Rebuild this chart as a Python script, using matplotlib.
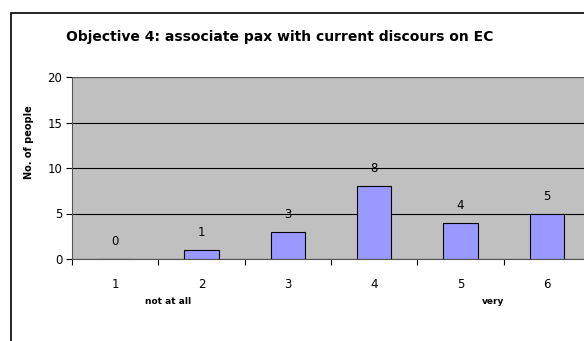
import matplotlib.pyplot as plt
from matplotlib.patches import Rectangle

categories = [1, 2, 3, 4, 5, 6]
counts = [0, 1, 3, 8, 4, 5]
title = "Objective 4: associate pax with current discours on EC"

W, H = 584, 341
fig = plt.figure(figsize=(W / 100, H / 100), dpi=100)

# outer chart frame (runs off the right and bottom edges)
fig.patches.append(Rectangle((10.5 / W, -0.1), 1.2, (H - 12.5) / H + 0.1,
                             transform=fig.transFigure, fill=False,
                             edgecolor="black", linewidth=1.2))

# plot area: left 72px, right ~590px, top 77px, bottom 259px
left, right, top, bottom = 72, 590, 77, 259
ax = fig.add_axes([left / W, 1 - bottom / H, (right - left) / W, (bottom - top) / H])
ax.set_facecolor("#c0c0c0")

ax.bar(categories, counts, width=0.4, color="#9999ff", edgecolor="black",
       linewidth=0.8, zorder=3)
for x, v in zip(categories, counts):
    ax.text(x, v + 1.9, str(v), ha="center", va="center", fontsize=8.5, zorder=4)

ax.set_xlim(0.5, 6.5)
ax.set_ylim(0, 20)
ax.set_yticks([0, 5, 10, 15, 20])
ax.yaxis.grid(True, color="black", linewidth=0.8, zorder=1)
ax.set_axisbelow(True)

ax.set_xticks([c + 0.5 for c in categories[:-1]] + [0.5], labels=[])
ax.set_xticks(categories, labels=[str(c) for c in categories], minor=True)
ax.tick_params(axis="x", which="major", length=4, width=0.8, direction="out")
ax.tick_params(axis="x", which="minor", length=0, labelsize=8.5, pad=14)
ax.tick_params(axis="y", length=4, width=0.8, labelsize=8.5, pad=3)

for s in ["right", "top"]:
    ax.spines[s].set_visible(False)
ax.spines["left"].set_color("#555555")
ax.spines["bottom"].set_color("#555555")
ax.axhline(20, color="#555555", linewidth=1.5, zorder=2)

fig.text(29 / W, 1 - 142 / H, "No. of people", rotation=90, ha="center",
         va="center", fontsize=7, fontweight="bold")

fig.text(280 / W, 1 - 37 / H, title, ha="center", va="center",
         fontsize=10, fontweight="bold")
fig.text(168 / W, 1 - 302 / H, "not at all", ha="center", va="center",
         fontsize=6.5, fontweight="bold")
fig.text(493 / W, 1 - 302 / H, "very", ha="center", va="center",
         fontsize=6.5, fontweight="bold")

fig.savefig("out.png", dpi=100)
